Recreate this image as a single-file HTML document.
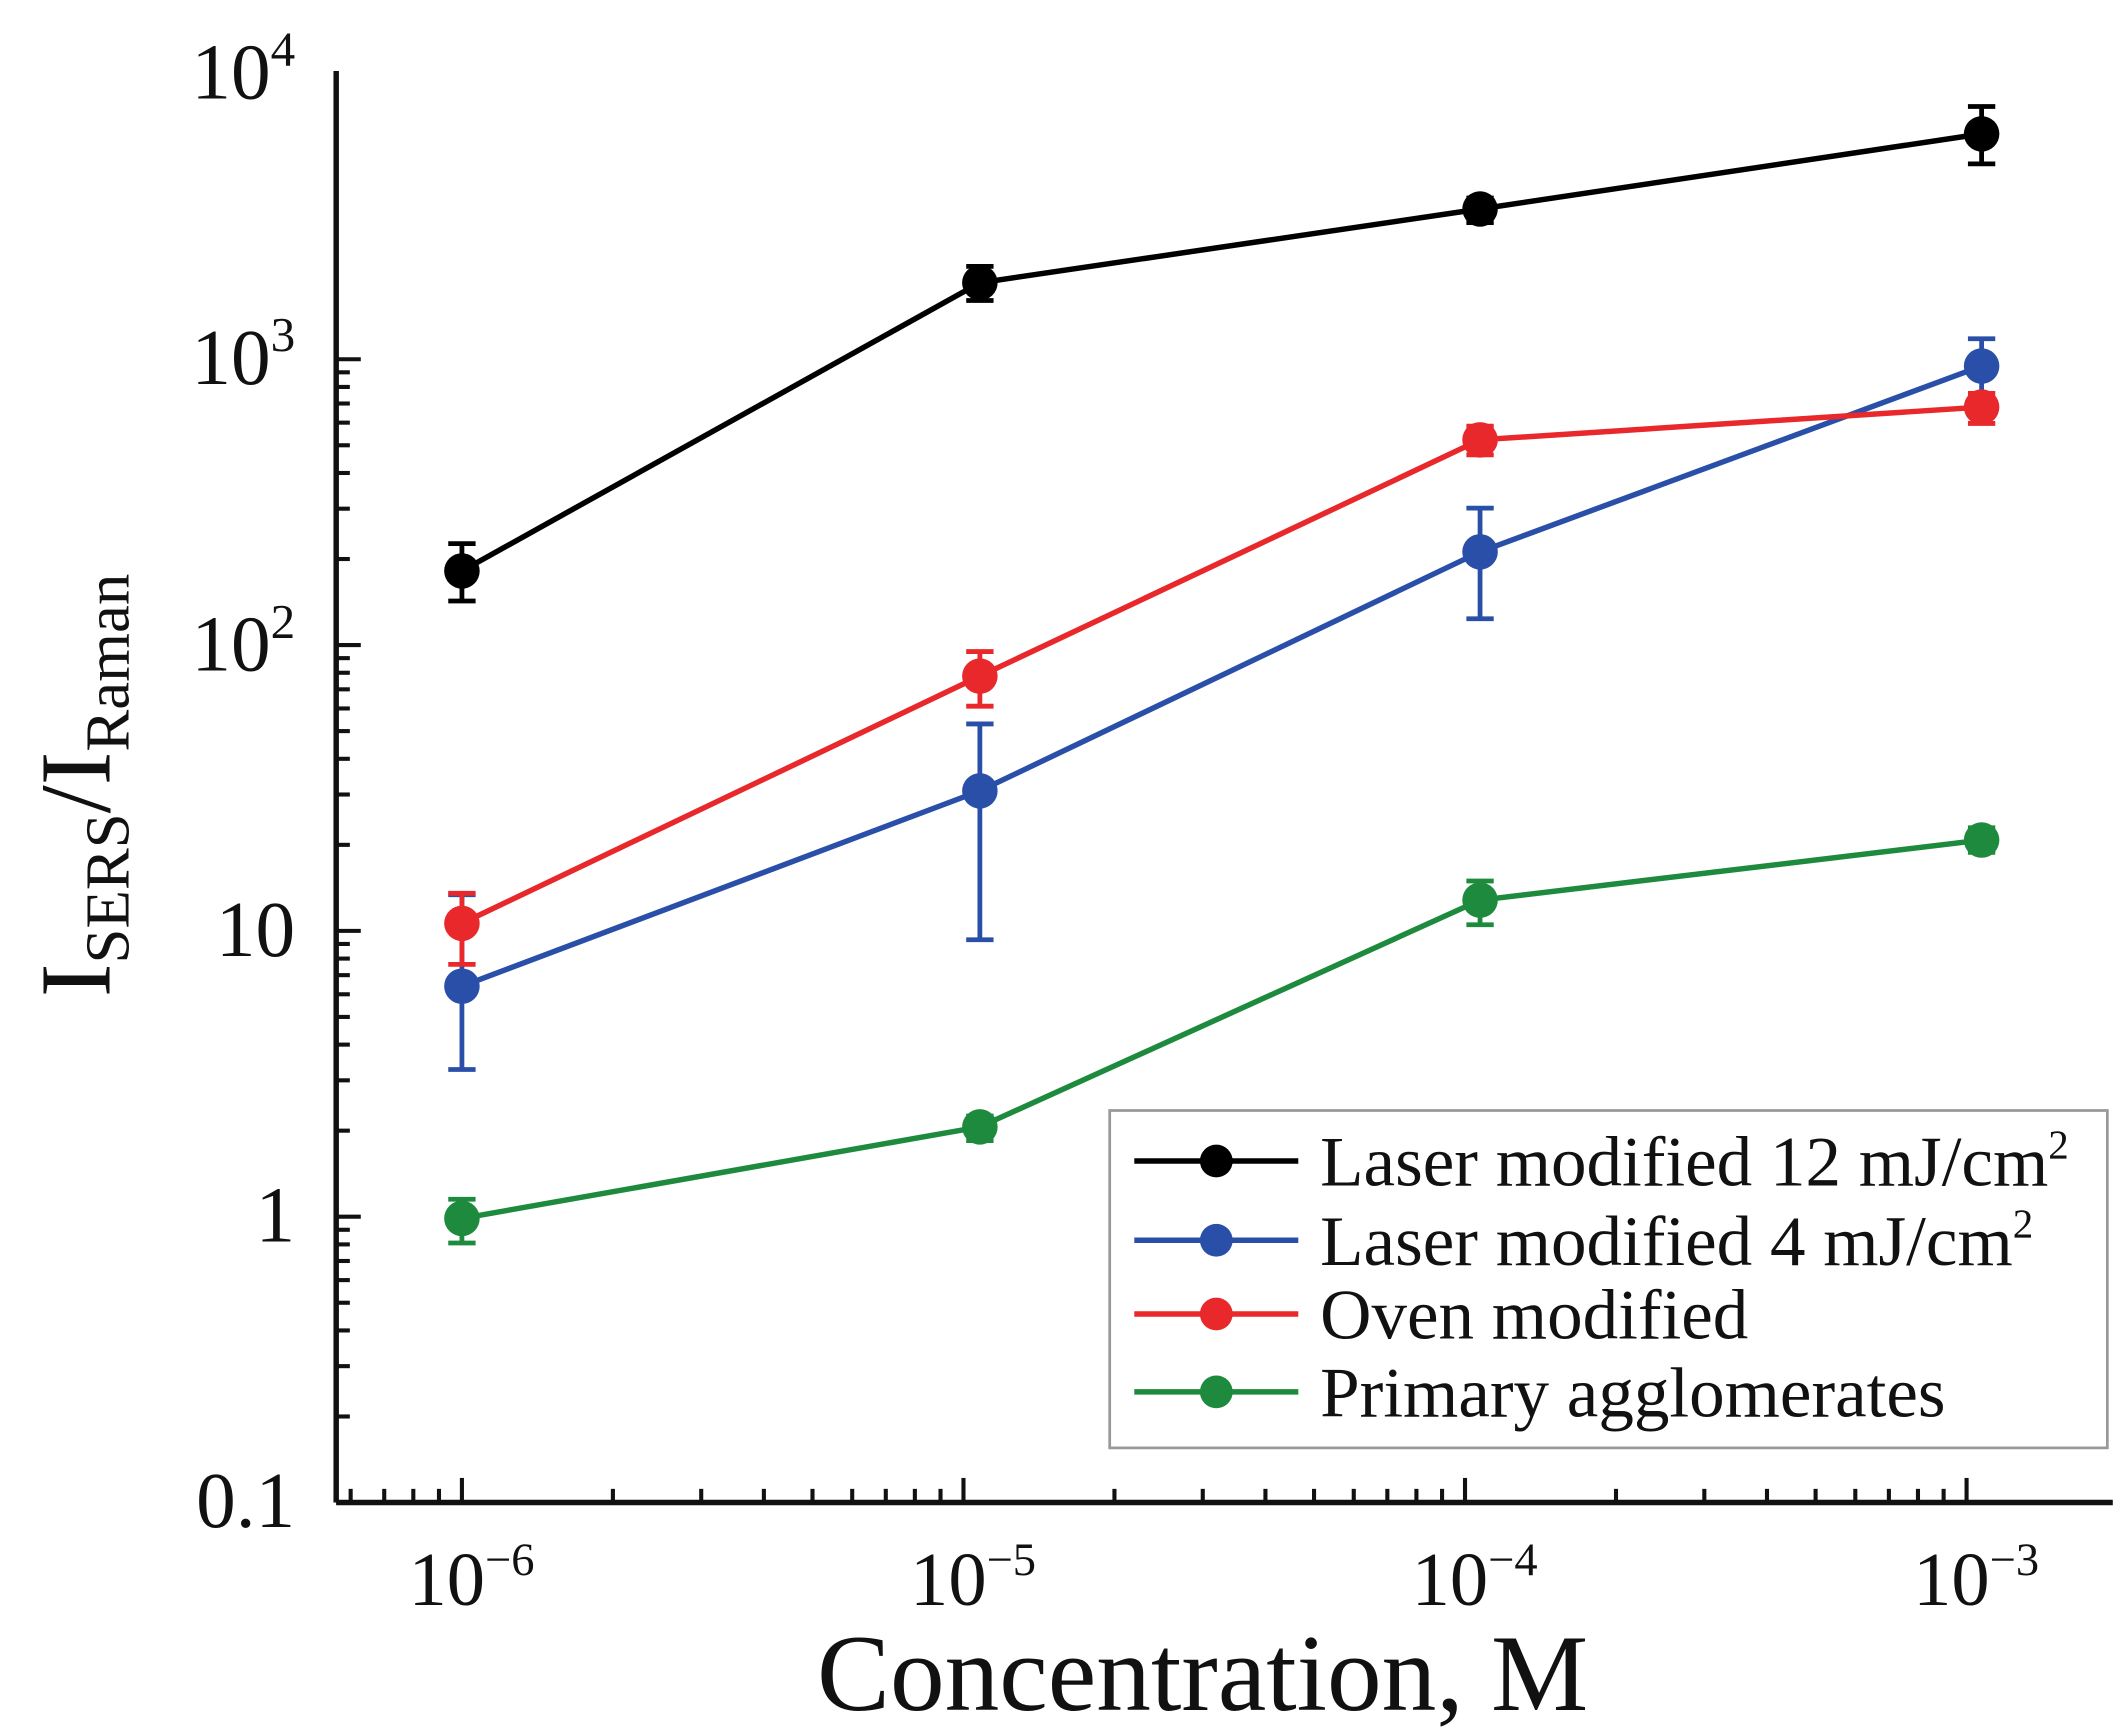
<!DOCTYPE html>
<html><head><meta charset="utf-8"><style>html,body{margin:0;padding:0;background:#fff}svg{display:block}</style></head>
<body>
<svg width="2121" height="1732" viewBox="0 0 1552 1268" preserveAspectRatio="none" xmlns="http://www.w3.org/2000/svg" font-family="Liberation Serif, serif">
<g id="ticks" stroke="#111" stroke-width="3"></g>
<line x1="246" y1="52" x2="246" y2="1100" stroke="#111" stroke-width="4"/>
<line x1="246" y1="1100" x2="1546" y2="1100" stroke="#111" stroke-width="4"/>
<g font-size="58" fill="#111" text-anchor="end">
<text x="216" y="72">10<tspan font-size="36" dy="-24">4</tspan></text>
<text x="216" y="281">10<tspan font-size="36" dy="-24">3</tspan></text>
<text x="216" y="491">10<tspan font-size="36" dy="-24">2</tspan></text>
<text x="216" y="700">10</text>
<text x="216" y="909">1</text>
<text x="216" y="1118">0.1</text>
</g>
<g font-size="56" fill="#111" text-anchor="middle">
<text x="345" y="1175">10<tspan font-size="34" dy="-22">−6</tspan></text>
<text x="712" y="1175">10<tspan font-size="34" dy="-22">−5</tspan></text>
<text x="1079" y="1175">10<tspan font-size="34" dy="-22">−4</tspan></text>
<text x="1446" y="1175">10<tspan font-size="34" dy="-22">−3</tspan></text>
</g>
<text x="880" y="1252" font-size="80" text-anchor="middle" fill="#111">Concentration, M</text>
<text transform="translate(80,575) rotate(-90)" font-size="74" text-anchor="middle" fill="#111">I<tspan font-size="46" dy="14">SERS</tspan><tspan dy="-14">/I</tspan><tspan font-size="46" dy="14">Raman</tspan></text>
<g id="series"></g>
<rect x="812" y="813" width="730" height="247" fill="#fff" stroke="#999" stroke-width="2"/>
<g stroke-width="4">
<line x1="830" y1="850" x2="950" y2="850" stroke="#000"/><circle cx="890" cy="850" r="12" fill="#000"/>
<line x1="830" y1="908" x2="950" y2="908" stroke="#2a4fa8"/><circle cx="890" cy="908" r="12" fill="#2a4fa8"/>
<line x1="830" y1="962" x2="950" y2="962" stroke="#e8282a"/><circle cx="890" cy="962" r="12" fill="#e8282a"/>
<line x1="830" y1="1019" x2="950" y2="1019" stroke="#1e8a3e"/><circle cx="890" cy="1019" r="12" fill="#1e8a3e"/>
</g>
<g font-size="52" fill="#111">
<text x="966" y="868">Laser modified 12 mJ/cm<tspan font-size="30" dy="-20">2</tspan></text>
<text x="966" y="926">Laser modified 4 mJ/cm<tspan font-size="30" dy="-20">2</tspan></text>
<text x="966" y="980">Oven modified</text>
<text x="966" y="1037">Primary agglomerates</text>
</g>
<script>
var ns="http://www.w3.org/2000/svg";
function el(p,t,a){var e=document.createElementNS(ns,t);for(var k in a)e.setAttribute(k,a[k]);p.appendChild(e);return e;}
var tg=document.getElementById('ticks');
for(var d=0;d<5;d++){var y0=1100-d*209.25;el(tg,'line',{x1:246,y1:y0,x2:264,y2:y0});
 if(d<4)for(var m=2;m<10;m++){var y=y0-Math.log10(m)*209.25;el(tg,'line',{x1:246,y1:y,x2:256,y2:y});}}
for(var d=-7;d<=-3;d++){var x0=338+(d+6)*367;if(x0>=246&&x0<=1546)el(tg,'line',{x1:x0,y1:1100,x2:x0,y2:1082});
 for(var m=2;m<10;m++){var x=x0+Math.log10(m)*367;if(x>=248&&x<=1546)el(tg,'line',{x1:x,y1:1100,x2:x,y2:1090});}}
var S=[
 ['#000',[[338,418,398,440],[717,207,195,220],[1083,153,145,163],[1450,98,78,120]]],
 ['#2a4fa8',[[338,722,655,783],[717,579,530,688],[1083,404,372,453],[1450,268,248,292]]],
 ['#e8282a',[[338,676,654,706],[717,495,477,517],[1083,322,312,333],[1450,298,288,310]]],
 ['#1e8a3e',[[338,892,878,910],[717,825,817,835],[1083,659,645,677],[1450,615,606,624]]]];
var sg=document.getElementById('series');
S.forEach(function(s){var c=s[0],p=s[1];
 el(sg,'polyline',{points:p.map(function(q){return q[0]+','+q[1]}).join(' '),fill:'none',stroke:c,'stroke-width':4});
 p.forEach(function(q){el(sg,'line',{x1:q[0],y1:q[2],x2:q[0],y2:q[3],stroke:c,'stroke-width':3.5});
  el(sg,'line',{x1:q[0]-10,y1:q[2],x2:q[0]+10,y2:q[2],stroke:c,'stroke-width':3.5});
  el(sg,'line',{x1:q[0]-10,y1:q[3],x2:q[0]+10,y2:q[3],stroke:c,'stroke-width':3.5});
  el(sg,'circle',{cx:q[0],cy:q[1],r:13,fill:c});});
});
</script>
</svg>
</body></html>
